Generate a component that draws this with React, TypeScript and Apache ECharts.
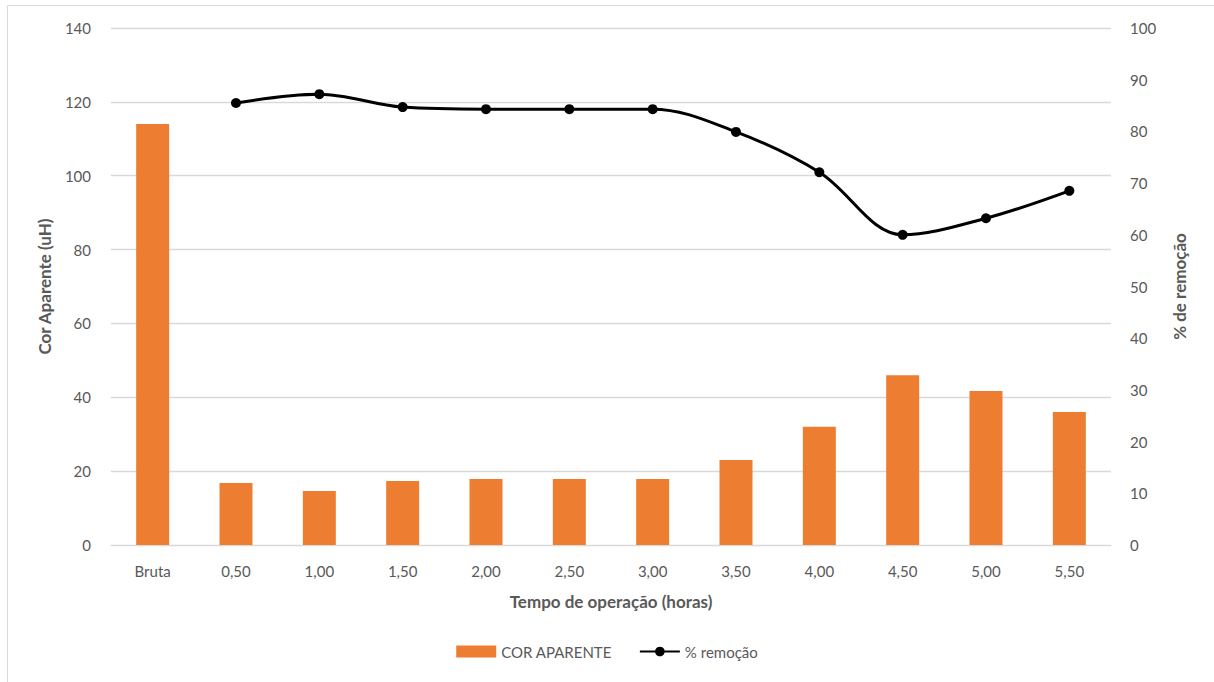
import React, { useEffect, useRef } from "react";
import * as echarts from "echarts";

const categories = ["Bruta", "0,50", "1,00", "1,50", "2,00", "2,50", "3,00", "3,50", "4,00", "4,50", "5,00", "5,50"];
const corAparente = [114.0, 16.8, 14.6, 17.3, 17.9, 17.9, 17.9, 23.0, 32.0, 46.0, 41.7, 36.0];
const remocao = [null, 85.5, 87.2, 84.7, 84.3, 84.3, 84.3, 79.9, 72.1, 60.0, 63.2, 68.5];

const FONT = "Lato, 'Open Sans', sans-serif";
const GRAY = "#595959";

export default function App() {
  const ref = useRef<HTMLDivElement>(null);
  useEffect(() => {
    if (!ref.current) return;
    const chart = echarts.init(ref.current, undefined, { renderer: "svg" });
    chart.setOption({
      animation: false,
      textStyle: { fontFamily: FONT },
      graphic: [
        {
          type: "rect",
          shape: { x: 7.5, y: 5.5, width: 1240, height: 720 },
          style: { fill: "none", stroke: "#d9d9d9", lineWidth: 1 },
          silent: true,
        },
      ],
      grid: { left: 111, right: 103, top: 28, bottom: 137 },
      legend: {
        bottom: 18,
        left: "center",
        itemWidth: 40,
        itemHeight: 12,
        itemGap: 27,
        textStyle: { color: GRAY, fontSize: 15, fontFamily: FONT },
        data: [
          { name: "COR APARENTE", icon: "rect" },
          { name: "% remoção" },
        ],
      },
      xAxis: {
        type: "category",
        data: categories,
        name: "Tempo de operação (horas)",
        nameLocation: "middle",
        nameGap: 48,
        nameTextStyle: { color: GRAY, fontSize: 17, fontWeight: "bold", fontFamily: FONT },
        axisLine: { lineStyle: { color: "#d9d9d9" } },
        axisTick: { show: false },
        axisLabel: { color: GRAY, fontSize: 15, margin: 18, fontFamily: FONT },
      },
      yAxis: [
        {
          type: "value",
          min: 0,
          max: 140,
          interval: 20,
          name: "Cor Aparente (uH)",
          nameLocation: "middle",
          nameGap: 58,
          nameRotate: 90,
          nameTextStyle: { color: GRAY, fontSize: 17, fontWeight: "bold", fontFamily: FONT },
          axisLine: { show: false },
          axisTick: { show: false },
          axisLabel: { color: GRAY, fontSize: 15, margin: 20, fontFamily: FONT },
          splitLine: { lineStyle: { color: "#d9d9d9", width: 1.3 } },
        },
        {
          type: "value",
          min: 0,
          max: 100,
          interval: 10,
          name: "% de remoção",
          nameLocation: "middle",
          nameGap: 60,
          nameRotate: 90,
          nameTextStyle: { color: GRAY, fontSize: 17, fontWeight: "bold", fontFamily: FONT },
          axisLine: { show: false },
          axisTick: { show: false },
          axisLabel: { color: GRAY, fontSize: 15, margin: 19, fontFamily: FONT },
          splitLine: { show: false },
        },
      ],
      series: [
        {
          name: "COR APARENTE",
          type: "bar",
          data: corAparente,
          barWidth: 33,
          itemStyle: { color: "#ED7D31" },
        },
        {
          name: "% remoção",
          type: "line",
          yAxisIndex: 1,
          data: remocao,
          smooth: 0.35,
          symbol: "circle",
          symbolSize: 10,
          lineStyle: { color: "#000000", width: 3 },
          itemStyle: { color: "#000000" },
        },
      ],
    });
    return () => chart.dispose();
  }, []);
  return (
    <div
      ref={ref}
      style={{ position: "absolute", left: 0, top: 0, width: 1214, height: 682, background: "#ffffff" }}
    />
  );
}
